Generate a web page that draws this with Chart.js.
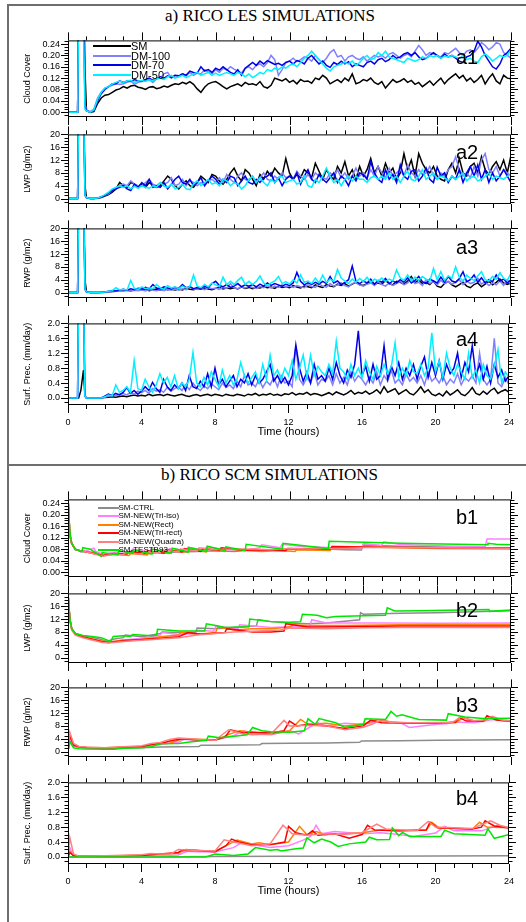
<!DOCTYPE html>
<html>
<head>
<meta charset="utf-8">
<script src="https://cdn.jsdelivr.net/npm/chart.js@4.4.0/dist/chart.umd.min.js"></script>
<style>
  body { margin: 0; background: #fff; width: 526px; height: 922px; position: relative; overflow: hidden; font-family: "Liberation Sans", Arial, sans-serif; }
  canvas { position: absolute; left: 0; }
  .rule { position: absolute; background: #6e6e6e; }
  .title { position: absolute; font-family: "Liberation Serif", "Times New Roman", serif; font-size: 17px; line-height: 17px; white-space: nowrap; transform: translateX(-50%); }
  .tag { position: absolute; font-size: 20px; line-height: 20px; }
  .row { position: absolute; display: flex; align-items: center; white-space: nowrap; }
  .row span.sw { display: inline-block; height: 2px; }
</style>
</head>
<body>
<div class="rule" style="left:7px;top:4px;width:2px;height:918px"></div>
<div class="rule" style="left:7px;top:4px;width:519px;height:2px"></div>
<div class="rule" style="left:7px;top:464px;width:519px;height:2px"></div>
<div class="title" style="left:270px;top:6.5px">a) RICO LES SIMULATIONS</div>
<div class="title" style="left:269.5px;top:466px">b) RICO SCM SIMULATIONS</div>

<script>
// ---- LES output, sampled every 0.2 h (denser around the spin-up spike)
const lesTime = [0,0.52,0.58,0.7,0.84,0.92,
  1,1.2,1.4,1.6,1.8, 2,2.2,2.4,2.6,2.8, 3,3.2,3.4,3.6,3.8, 4,4.2,4.4,4.6,4.8,
  5,5.2,5.4,5.6,5.8, 6,6.2,6.4,6.6,6.8, 7,7.2,7.4,7.6,7.8, 8,8.2,8.4,8.6,8.8,
  9,9.2,9.4,9.6,9.8, 10,10.2,10.4,10.6,10.8, 11,11.2,11.4,11.6,11.8, 12,12.2,12.4,12.6,12.8,
  13,13.2,13.4,13.6,13.8, 14,14.2,14.4,14.6,14.8, 15,15.2,15.4,15.6,15.8, 16,16.2,16.4,16.6,16.8,
  17,17.2,17.4,17.6,17.8, 18,18.2,18.4,18.6,18.8, 19,19.2,19.4,19.6,19.8, 20,20.2,20.4,20.6,20.8,
  21,21.2,21.4,21.6,21.8, 22,22.2,22.4,22.6,22.8, 23,23.2,23.4,23.6,23.8, 24];

// cloud cover
const ccSM = [0,0,0.4,0.6,0.5,0.15,
  0.005,0,0.002,0.03,0.05, 0.06,0.062,0.07,0.078,0.082, 0.09,0.085,0.092,0.095,0.088, 0.085,0.08,0.088,0.09,0.083,
  0.086,0.092,0.088,0.095,0.1, 0.098,0.105,0.1,0.108,0.098, 0.082,0.07,0.088,0.1,0.105, 0.108,0.1,0.09,0.082,0.09,
  0.095,0.1,0.092,0.105,0.098, 0.1,0.095,0.108,0.09,0.085, 0.095,0.12,0.115,0.11,0.118, 0.105,0.112,0.1,0.115,0.108,
  0.11,0.102,0.12,0.115,0.13, 0.12,0.1,0.108,0.115,0.105, 0.12,0.11,0.135,0.1,0.105, 0.115,0.11,0.12,0.105,0.098,
  0.108,0.085,0.1,0.115,0.105, 0.11,0.118,0.105,0.112,0.098, 0.105,0.09,0.1,0.11,0.095, 0.108,0.12,0.1,0.115,0.125,
  0.135,0.12,0.13,0.11,0.12, 0.105,0.115,0.13,0.1,0.12, 0.135,0.11,0.1,0.13,0.12, 0.118];
const ccD100 = [0,0,0.4,0.6,0.4,0.03,
  0.008,0.002,0.01,0.05,0.07, 0.085,0.09,0.095,0.1,0.098, 0.1,0.105,0.11,0.098,0.105, 0.108,0.112,0.115,0.105,0.118,
  0.12,0.135,0.14,0.12,0.13, 0.125,0.135,0.128,0.14,0.13, 0.138,0.135,0.15,0.142,0.135, 0.15,0.14,0.155,0.148,0.16,
  0.152,0.145,0.138,0.155,0.16, 0.15,0.165,0.17,0.16,0.175, 0.2,0.185,0.13,0.15,0.175, 0.18,0.19,0.178,0.185,0.195,
  0.19,0.18,0.2,0.185,0.175, 0.19,0.21,0.22,0.195,0.2, 0.18,0.195,0.2,0.19,0.185, 0.195,0.18,0.19,0.2,0.195,
  0.2,0.19,0.205,0.21,0.2, 0.19,0.2,0.205,0.195,0.215, 0.235,0.22,0.2,0.21,0.205, 0.2,0.195,0.21,0.205,0.215,
  0.225,0.21,0.2,0.215,0.22, 0.21,0.225,0.245,0.235,0.22, 0.23,0.245,0.24,0.21,0.2, 0.19];
const ccD70 = [0,0,0.4,0.6,0.4,0.02,
  0.005,0,0.005,0.04,0.065, 0.08,0.09,0.1,0.1,0.11, 0.105,0.11,0.108,0.115,0.11, 0.11,0.115,0.12,0.112,0.118,
  0.125,0.12,0.128,0.122,0.13, 0.128,0.135,0.13,0.145,0.14, 0.138,0.16,0.145,0.15,0.14, 0.155,0.148,0.16,0.15,0.14,
  0.135,0.15,0.13,0.155,0.165, 0.175,0.165,0.18,0.17,0.182, 0.175,0.168,0.172,0.165,0.175, 0.18,0.17,0.182,0.178,0.17,
  0.19,0.2,0.185,0.17,0.18, 0.165,0.158,0.175,0.168,0.18, 0.17,0.178,0.16,0.17,0.165, 0.16,0.175,0.18,0.17,0.185,
  0.19,0.178,0.185,0.2,0.19, 0.195,0.205,0.21,0.2,0.21, 0.195,0.185,0.19,0.2,0.21, 0.2,0.19,0.205,0.195,0.2,
  0.19,0.18,0.175,0.195,0.2, 0.215,0.25,0.23,0.2,0.18, 0.16,0.152,0.17,0.2,0.21, 0.225];
const ccD50 = [0,0,0.4,0.6,0.3,0.01,
  0.005,0,0.008,0.045,0.07, 0.085,0.09,0.1,0.105,0.11, 0.105,0.11,0.112,0.105,0.11, 0.112,0.108,0.115,0.11,0.118,
  0.12,0.115,0.125,0.13,0.12, 0.125,0.13,0.122,0.128,0.135, 0.14,0.13,0.135,0.14,0.13, 0.138,0.13,0.135,0.14,0.135,
  0.13,0.14,0.135,0.125,0.135, 0.122,0.13,0.14,0.135,0.15, 0.145,0.155,0.15,0.16,0.155, 0.165,0.17,0.16,0.175,0.19,
  0.2,0.215,0.2,0.185,0.17, 0.155,0.145,0.16,0.165,0.17, 0.175,0.17,0.18,0.165,0.175, 0.19,0.2,0.185,0.19,0.21,
  0.2,0.215,0.195,0.19,0.185, 0.18,0.175,0.19,0.185,0.18, 0.185,0.195,0.19,0.2,0.195, 0.2,0.19,0.198,0.195,0.2,
  0.195,0.19,0.2,0.185,0.19, 0.18,0.175,0.195,0.205,0.195, 0.18,0.19,0.2,0.195,0.2, 0.22];

// liquid water path
const lwpSM = [0,0,30,40,35,4,
  0.3,0,0,0.1,0.3, 0.8,1.2,2,3,5, 4,3.5,5,4.5,3.8, 4.5,3.5,5,4,3.5,
  4,5.5,7,6,4, 3,4.5,5.5,4,3.5, 5,7,6,5,7.5, 7,5.5,4.5,6,8,
  9.5,7,5.5,9,8, 6,4,7.5,6,8.5, 7,9.5,8,7,12.5, 8,6,7.5,6.5,9,
  8,6.5,11,8.5,6, 9,7,6,10,8, 11.5,7,9,6,10, 7,9,12.5,8,10,
  7,11,8,9.5,6, 8,14,9,12,7, 14,11,9,8,10, 7,6,5.5,9,11,
  8,12.5,8,7,10, 11,8,13,9,7.5, 10,11.5,9,12,8, 13.5];
const lwpD100 = [0,0,30,40,30,1,
  0.3,0,0,0.1,0.5, 1,1.5,2.5,3.5,4, 4.5,4,5.5,4.5,4, 4,5,6,4.5,4,
  5,4.5,5,6.5,4, 4.5,6,4,5.5,5, 4,5,4.5,5.5,6, 5,6.5,5,7.5,6,
  5,7,8,6,5.5, 7,5,6.5,8,6, 5.5,7,6,8,6.5, 7,6,8.5,7,6,
  7.5,6,8,7,6.5, 6,8,7,9,6.5, 8,6,7,9.5,7, 8,6.5,9,7,10,
  8,6.5,9.5,7,8, 9,7,10.5,8,7, 9,7.5,8,10,7, 6,8,7,9,10,
  13,9,7,8,6.5, 10,7,12,14,9, 8,10,7,9,8, 7];
const lwpD70 = [0,0,30,40,30,1,
  0.3,0,0,0.2,0.5, 1,1.8,2.5,3,3.5, 4,3,2.5,4.5,3.5, 5,4,6,3.5,4,
  3.5,5,3,4.5,6, 7,5,4.5,6,4, 5,6.5,4,5.5,7, 6,4.5,6,5,7,
  6.5,4,5.5,7,5, 4.5,6,5,6.5,7, 8,5,6.5,4,6, 7,6,8,4.5,7,
  9,6,5,7.5,6, 5,6.5,8,5,7, 6,4,7,5.5,8, 7.5,6,11.5,8,6,
  5,9,6,7.5,5, 10.5,7,6,8.5,9, 5.5,7,9.5,6,5, 9.8,7,8,5,7,
  6,9,5,8,10, 7,10.5,6,9,5, 8,5.5,7,9,7, 5];
const lwpD50 = [0,0,30,40,30,1,
  0.3,0,0,0.2,0.6, 1.2,2,3,3.5,4, 3.5,4,3,3.8,3.2, 4,3.5,3.2,4,3.6,
  5,3.8,3.5,4.5,3, 3.5,4.5,3,2.8,4.5, 5.5,4,5,6,4.5, 5,4,6,5.5,4,
  5,4.5,3,4,6, 7,5,6.5,5,4, 6,5,6.5,7,5, 5.5,6,4.5,5,7,
  4,3.5,6,5,7, 9.5,7,5,6,4, 6,7,5.5,7,6, 6,5,6.5,7,6,
  7,6,8,6,7, 5,7,8.5,6,5.5, 7,9,6,7,8, 6,7,6.5,5.5,7,
  6,7,8,5.5,6.5, 7,5.5,6,7,8, 6,7,6.5,6,7, 7.5];

// rain water path
const rwpSM = [0,0,30,40,35,4,
  0.2,0,0,0,0, 0.1,0.2,0.3,0.4,0.5, 0.6,0.8,0.5,0.9,0.7, 0.8,1,0.6,0.9,1.1,
  0.7,1.2,0.9,1,0.8, 1.1,0.8,1.3,1,0.9, 1.2,1,1.4,1.1,0.9, 1.3,1.6,1.1,1.4,1.2,
  1.5,1.1,1.8,1.3,1.6, 1.2,1.6,1.4,1.9,1.5, 1.7,1.3,2,1.6,1.8, 1.5,2.2,1.7,1.4,2,
  1.8,1.5,2.4,1.9,1.6, 2.5,2,1.8,2.6,2.2, 2.8,2,2.6,3.2,2.4, 2.2,2.8,3.5,2.5,3,
  2.6,3.8,2.8,2.4,3.5, 3.2,2.6,3.6,5,3, 4,2.8,3.2,2.5,3.6, 2,1.6,2.8,3.5,2.4,
  1.8,2.5,3.2,2,1.5, 2.5,3,1.8,2.6,3.5, 2.4,3.2,4.2,3,2.5, 3];
const rwpD100 = [0,0,30,40,30,1,
  0.2,0,0,0,0, 0.1,0.2,0.3,0.4,0.5, 0.4,0.6,0.5,0.7,0.6, 0.8,0.5,0.9,0.7,0.6,
  0.9,0.6,1,0.8,1.1, 0.7,1.2,0.9,2,1.1, 1,1.3,0.9,1.5,1.2, 1.4,1,1.6,1.3,2.8,
  1.5,1.2,1.8,1.4,2, 1.6,1.3,1.9,1.5,2.2, 1.4,2,1.6,2.4,1.7, 2,1.6,2.2,1.8,1.5,
  2.4,1.9,1.6,2.6,2, 1.7,2.8,2,2.4,3, 2.2,1.8,2.8,3.2,2.4, 2,2.6,3,2.2,3.4,
  2.5,2,3,2.2,2.8, 3.5,2.4,3,4.4,2.8, 3.2,2.2,4,2.8,3.5, 2.4,3.8,2.8,3.4,2.6,
  3.2,4,2.5,3.6,2.8, 3.2,4.5,2.6,3.4,2.2, 3,2.4,3.6,2.2,4, 2.5];
const rwpD70 = [0,0,30,40,30,1,
  0.2,0,0,0,0.1, 0.2,0.4,0.6,0.5,0.8, 1,0.7,1.2,0.9,1.3, 1.1,1.6,1.2,2.5,1.4,
  1.2,1.8,1.4,1.1,1.6, 1.3,2.5,1.5,1.8,1.2, 1.6,1.3,2,1.5,2.8, 3.5,2.2,1.8,2.5,1.6,
  2,2.8,1.8,2.4,2, 2.5,1.8,2.6,2,3, 2.2,2.8,2.4,2,2.6, 2.2,3,6.3,3.5,2.4,
  3,2.5,3.2,2.6,3.5, 2.8,5,3,3.6,2.5, 3.2,4,8.3,3.5,2.8, 3.6,3,4.2,2.6,3.8,
  3.2,4.4,2.8,3.6,3, 4,3.2,4.6,3,3.8, 5,3.4,2.8,4.2,3.6, 3,4.8,3.2,5,3.6,
  3.2,4.4,6.5,3.4,4, 5.5,3.2,4.6,3,4, 3.4,5.5,3.6,4.2,3, 4];
const rwpD50 = [0,0,30,40,30,1,
  0.2,0,0,0,0.1, 0.2,0.4,0.6,1.5,0.8, 1,0.8,3.8,1.2,1, 1.8,1.2,1.5,1.2,2.5,
  1.5,1,2.2,1.4,1.8, 1.2,2,1.4,1.8,5.5, 2,1.5,2.5,1.8,3, 2.4,1.8,4.8,2.4,3.5,
  2.5,3.8,4.8,2.5,3.5, 2.5,3.5,5.2,3,2.2, 3,3.6,5,2.8,3.4, 2.6,4,3,5.5,3.2,
  3.6,2.8,4.5,3,5.4, 3.2,4.2,3.5,7.2,4.5, 3.6,2.8,4.2,3.2,4.4, 3.4,4.8,3.2,4.2,3.6,
  4.5,3.4,4.2,3.6,7, 4.6,3.8,5.5,3.6,4.8, 3.8,5,4.2,3.6,7.5, 4,6.5,3.8,5.2,4.5,
  8,4.8,3.6,5.4,4.4, 3.8,5.2,6.5,4,3.6, 5,4.2,6.2,4.4,3.8, 6];

// surface precipitation
const prSM = [0,0,0,0.2,0.75,0.05,
  0,0,0,0,0, 0.01,0.02,0.03,0.02,0.04, 0.05,0.03,0.06,0.08,0.05, 0.07,0.05,0.1,0.06,0.08,
  0.09,0.06,0.1,0.07,0.05, 0.08,0.1,0.06,0.04,0.07, 0.09,0.05,0.08,0.1,0.06, 0.1,0.08,0.05,0.1,0.07,
  0.06,0.1,0.08,0.05,0.1, 0.08,0.12,0.06,0.1,0.08, 0.12,0.07,0.1,0.06,0.11, 0.09,0.14,0.08,0.12,0.1,
  0.15,0.08,0.12,0.1,0.06, 0.1,0.14,0.08,0.16,0.12, 0.08,0.13,0.2,0.1,0.15, 0.12,0.18,0.1,0.15,0.22,
  0.12,0.3,0.15,0.2,0.25, 0.1,0.16,0.22,0.12,0.08, 0.18,0.3,0.15,0.22,0.1, 0.06,0.12,0.05,0.18,0.08,
  0.14,0.22,0.1,0.06,0.15, 0.28,0.12,0.08,0.18,0.1, 0.2,0.26,0.12,0.18,0.22, 0.15];
const prD100 = [0,0,3,4,3,0.05,
  0,0,0,0,0, 0.02,0.05,0.08,0.06,0.1, 0.12,0.08,0.15,0.1,0.18, 0.14,0.2,0.12,0.25,0.18,
  0.22,0.15,0.28,0.18,0.25, 0.3,0.2,0.35,0.22,0.4, 0.28,0.2,0.32,0.25,0.38, 0.3,0.22,0.4,0.28,0.35,
  0.25,0.45,0.3,0.6,0.35, 0.4,0.3,0.5,0.28,0.45, 0.35,0.55,0.3,0.6,0.4, 0.45,0.3,1.4,0.5,0.35,
  0.55,0.4,0.7,0.35,0.5, 0.45,0.6,0.35,0.65,0.4, 0.55,0.35,0.7,0.45,0.6, 0.5,0.35,0.55,0.4,0.7,
  0.35,0.6,0.45,0.75,0.4, 0.5,0.35,0.65,0.45,0.55, 0.4,0.6,0.35,0.7,0.45, 0.55,0.4,0.6,0.35,0.5,
  0.4,0.65,0.35,0.55,0.45, 0.6,0.4,1.2,0.5,0.35, 0.5,1.6,0.4,0.3,0.55, 0.35];
const prD70 = [0,0,3,4,3,0.05,
  0,0,0,0,0, 0.05,0.1,0.06,0.12,0.08, 0.15,0.28,0.12,0.2,0.1, 0.18,0.3,0.2,0.42,0.25,
  0.15,0.5,0.3,0.2,0.35, 0.25,0.4,0.2,0.6,0.3, 0.25,0.45,0.3,0.65,0.3, 0.8,0.35,0.5,0.3,0.45,
  0.6,0.3,0.5,0.4,0.65, 0.35,0.6,0.4,0.5,0.7, 0.9,0.45,0.6,0.4,0.55, 0.35,0.6,1.42,0.8,0.45,
  0.7,0.4,0.9,0.5,0.6, 0.45,0.8,0.5,0.95,0.6, 0.4,0.75,0.55,0.9,1.8, 0.6,0.85,0.45,0.9,0.5,
  0.6,1.4,0.5,0.85,0.6, 0.95,0.5,0.8,0.6,0.9, 0.5,0.85,1.1,0.55,0.95, 0.6,1.0,0.5,0.9,0.65,
  0.8,1.2,0.55,0.95,0.7, 1.4,0.6,0.9,0.5,0.85, 0.4,0.9,0.55,0.75,0.45, 0.6];
const prD50 = [0,0,3,4,3,0.05,
  0,0,0,0,0, 0.03,0.08,0.05,0.35,0.15, 0.2,0.3,0.15,1.0,0.25, 0.2,0.5,0.3,0.15,0.35,
  0.65,0.4,0.55,0.3,0.6, 0.25,0.4,0.3,0.5,1.22, 0.4,0.3,0.55,0.35,0.7, 0.5,0.3,0.75,0.4,0.6,
  0.35,0.5,0.95,0.6,0.4, 0.55,0.7,0.4,0.9,0.5, 1.15,0.6,0.75,0.5,0.8, 0.6,1.0,0.5,0.8,1.15,
  0.55,1.15,0.6,0.85,0.7, 0.6,0.9,0.65,1.52,0.8, 0.7,0.5,0.9,0.6,0.8, 0.55,1.0,0.7,0.5,0.85,
  0.6,0.9,0.65,0.85,1.48, 0.55,0.8,0.6,1.0,0.7, 0.65,0.9,0.6,0.8,1.75, 0.7,1.0,0.55,1.2,0.8,
  0.6,0.9,0.7,0.5,1.2, 0.55,0.75,0.4,0.9,0.6, 0.5,0.85,1.3,0.4,0.7, 0.55];

// ---- SCM output, [hour, value]
const ccCtrl = [[0,0.26],[0.1,0.13],[0.2,0.1],[0.4,0.08],[0.8,0.072],[1.5,0.068],[1.9,0.058],[2.5,0.062],[3,0.064],[3.6,0.07],[4.5,0.066],[5,0.068],[6,0.07],[7,0.072],[8,0.074],[9,0.072],[10,0.078],[11,0.076],[12,0.08],[13,0.078],[14,0.08],[15,0.078],[15.9,0.077],[16,0.094],[17,0.092],[18,0.09],[20,0.088],[22,0.085],[24,0.085]];
const ccTriIso = [[0,0.26],[0.1,0.13],[0.2,0.1],[0.4,0.08],[0.7,0.07],[1,0.075],[1.4,0.083],[1.5,0.072],[1.9,0.062],[2.6,0.07],[3.4,0.072],[3.5,0.08],[4.4,0.07],[4.5,0.08],[5.4,0.072],[5.5,0.082],[6.4,0.076],[6.5,0.086],[7.4,0.076],[7.5,0.088],[8.5,0.078],[9.8,0.078],[10.4,0.085],[10.5,0.095],[11.5,0.085],[11.6,0.097],[12.8,0.088],[15.9,0.082],[16,0.1],[16.5,0.096],[17,0.093],[17.1,0.105],[18,0.096],[20,0.092],[22.6,0.088],[22.7,0.115],[24,0.115]];
const ccRect = [[0,0.26],[0.1,0.13],[0.2,0.1],[0.4,0.078],[1,0.07],[1.5,0.066],[1.9,0.058],[2.5,0.062],[3.3,0.058],[3.4,0.065],[4.3,0.06],[4.4,0.07],[5.5,0.065],[5.6,0.074],[6.5,0.07],[6.6,0.078],[7.5,0.07],[7.6,0.08],[8.5,0.072],[8.6,0.08],[9.6,0.075],[10.5,0.072],[11.5,0.075],[12.3,0.072],[12.4,0.078],[14.2,0.075],[14.3,0.09],[16,0.087],[18,0.085],[20,0.082],[24,0.08]];
const ccTriRect = [[0,0.26],[0.1,0.13],[0.2,0.1],[0.4,0.078],[1,0.07],[1.9,0.058],[2.5,0.065],[3.2,0.063],[3.3,0.072],[4.2,0.066],[4.3,0.074],[5.2,0.066],[5.3,0.078],[6.2,0.07],[6.3,0.082],[7.2,0.072],[7.3,0.082],[8.2,0.075],[8.3,0.085],[9.5,0.076],[10.5,0.078],[11.8,0.074],[11.9,0.082],[14.2,0.08],[14.3,0.088],[16,0.087],[20,0.085],[24,0.085]];
const ccQuadra = [[0,0.26],[0.1,0.13],[0.2,0.1],[0.4,0.078],[1,0.07],[1.9,0.055],[2.5,0.063],[3,0.06],[3.1,0.068],[4,0.062],[4.1,0.072],[5,0.068],[5.1,0.078],[6,0.07],[6.1,0.08],[7,0.074],[7.1,0.085],[8,0.078],[9,0.08],[10,0.08],[11,0.078],[12,0.082],[13,0.08],[14,0.082],[15,0.082],[16,0.086],[18,0.086],[20,0.085],[24,0.083]];
const ccB93 = [[0,0.26],[0.1,0.14],[0.2,0.1],[0.4,0.08],[0.7,0.072],[0.75,0.071],[0.8,0.085],[1.2,0.08],[1.8,0.055],[1.85,0.068],[2.7,0.06],[2.75,0.075],[3.5,0.065],[3.55,0.078],[4.5,0.063],[4.55,0.08],[5.6,0.066],[5.65,0.083],[6.5,0.07],[6.55,0.086],[7.5,0.072],[7.55,0.09],[8.5,0.075],[8.55,0.088],[9.6,0.075],[9.65,0.097],[11.6,0.08],[11.65,0.1],[14.1,0.082],[14.15,0.107],[18,0.1],[22.7,0.095],[22.75,0.1],[23.2,0.097],[24,0.095]];

const lwpCtrl = [[0,20],[0.1,12],[0.2,9],[0.4,7.5],[0.8,6.7],[1.3,6.3],[1.8,5.6],[2.1,5],[2.5,5.8],[3,6.2],[3.1,7],[4,6.5],[5,7.5],[5.1,8],[6,7.8],[6.9,7.8],[7,9.2],[8,9],[9.5,9.6],[10.2,9.8],[10.3,11.8],[11,11.2],[12,10.8],[13,10.5],[14,10.8],[15.8,11.8],[15.85,14],[16,13.5],[18,13.8],[20,14],[22,14.3],[24,14.6]];
const lwpTriIso = [[0,20],[0.1,12],[0.2,9],[0.4,7.3],[0.8,6.5],[1.8,5],[2.2,4.8],[3,5.5],[4,6],[5,7],[5.1,7.8],[6,7.2],[6.9,7.5],[7,8.5],[7.9,8.2],[8,9.8],[9.2,9],[9.3,10.2],[11,9.4],[12,9.6],[13.1,9.5],[13.2,11.8],[14,10.8],[17,10.8],[20,10.7],[24,10.8]];
const lwpRect = [[0,20],[0.1,12],[0.2,9],[0.4,7.3],[0.8,6.5],[1.8,5.2],[2.2,4.8],[3,5.5],[4,5.6],[5,6.5],[6,7],[6.1,7.8],[7,7.3],[8,7.8],[8.1,9.5],[9,8.6],[10,9],[11,9],[12,9.5],[12.2,10.2],[13,10],[15,10],[18,10.2],[24,10.3]];
const lwpTriRect = [[0,20],[0.1,12],[0.2,9],[0.4,7.2],[0.8,6.4],[1.8,5],[2.2,4.7],[3,5.2],[4,5.6],[5,6],[6,6.5],[6.5,7.8],[7.2,7.3],[8.5,7.8],[8.6,9],[10,8],[11,8],[11.7,8.3],[11.8,10.5],[13,9.5],[15,9.6],[18,9.8],[24,9.8]];
const lwpQuadra = [[0,20],[0.1,12],[0.2,8.5],[0.4,7],[0.8,6.2],[1.8,4.8],[2.2,4.5],[3,5],[4,5.4],[5,5.8],[6,6.2],[7,7],[8,7.5],[9,8],[10,8.2],[11.5,8.6],[12,9.2],[14,9],[16,9.3],[18,9.4],[20,9.4],[24,9.4]];
const lwpB93 = [[0,20],[0.1,12],[0.2,9],[0.4,7.5],[0.8,6.9],[1.3,6.6],[1.8,6.2],[2.3,5],[2.45,6.6],[3,6.8],[3.4,6.6],[3.5,7.2],[4.5,6.8],[4.8,7],[4.85,8.8],[5.5,8.5],[6,8.3],[7.4,8.3],[7.5,10.5],[8,10],[8.5,9.4],[9.8,9.6],[9.85,12],[11,11.2],[12,11],[12.6,11.2],[12.7,13.5],[13.5,13.2],[14,12.4],[14.5,12.8],[16,13],[17.2,13.2],[17.3,15.5],[17.7,14.5],[19,14.6],[22.8,15],[22.85,14.4],[24,14.8]];

const rwpCtrl = [[0,1],[0.1,3.5],[0.3,1.8],[0.6,1.3],[1,1.2],[3,1.1],[4,1.2],[5,1.4],[6,1.5],[7.1,1.6],[7.2,2],[8,2],[10.4,2.1],[10.5,2.5],[12,2.6],[14,2.7],[15.8,2.9],[15.9,3.3],[18,3.4],[20,3.5],[22,3.6],[24,3.7]];
const rwpTriIso = [[0,0],[0.1,4.5],[0.3,2],[0.6,1.4],[1,1.2],[2,1.1],[3,1.3],[4,1.6],[5,2.2],[6,3],[6.3,3.8],[7,3.5],[8,3.6],[9,5],[9.5,6.5],[10,5.5],[11,5.2],[12,6.5],[12.5,5.5],[13.5,9],[14,8],[15,8.8],[16,8.5],[17,9.5],[18,9],[18.5,7.5],[20,8.5],[20.5,8.7],[21,9.2],[22,9],[23,10],[24,9.4]];
const rwpRect = [[0,0],[0.1,5.5],[0.3,2.2],[0.6,1.5],[1,1.3],[2,1.2],[3,1.4],[4,1.6],[4.8,2.5],[5.5,2.6],[6.2,4],[7,3.8],[8,3.6],[8.8,5.5],[9.3,6.5],[10,6],[11,5.5],[12,6.5],[12.6,10],[13,8.5],[14,8.8],[15,8],[16,8.6],[16.8,10],[17.5,9.2],[19,8.8],[21,9],[21.4,10.5],[22,9.5],[22.5,9.4],[22.9,10.8],[23.5,9.6],[24,9.4]];
const rwpTriRect = [[0,0],[0.1,5],[0.3,2],[0.6,1.5],[1,1.3],[2,1.1],[3,1.3],[4,1.5],[4.5,2.2],[5,2.5],[5.7,3.5],[6.2,4],[7,3.6],[8,3.7],[8.5,4.5],[8.8,6.8],[9.5,5.8],[10,6],[11,5.8],[11.7,6.5],[12,9.5],[12.4,8],[13,8.5],[14,8],[15,7.2],[16,8],[16.4,9.8],[17,9],[18,8.8],[20,8.8],[21,9.2],[21.2,10.5],[21.6,9.5],[22.5,9.5],[22.7,11.2],[23.2,9.8],[24,9.5]];
const rwpQuadra = [[0,0],[0.1,6],[0.3,2.5],[0.6,1.6],[1,1.4],[2,1.2],[3,1.5],[4,1.8],[4.5,2.5],[5,2.8],[5.5,3.8],[6,4.2],[7,3.8],[8,3.5],[8.3,5],[8.7,6.8],[9.5,5.5],[10,5.2],[11,5.5],[11.7,9.7],[12,8],[13,8.2],[14,8],[15,6.8],[16,7.6],[16.5,8.6],[17,10],[17.5,9],[19,9],[20.8,9],[21.3,10.8],[22,9.6],[22.5,9.8],[23,11],[23.5,9.8],[24,9.6]];
const rwpB93 = [[0,0],[0.1,3],[0.3,1.2],[0.6,0.9],[1,0.8],[2,0.7],[2.5,0.7],[3,1],[4,1.2],[4.5,1.5],[5,2.4],[6,2.5],[6.6,3],[7.5,3.5],[7.6,4.8],[8.2,4.3],[9,4.8],[9.7,5.2],[10,7.5],[10.5,6.5],[11,6.2],[12,6],[12.8,6.5],[13,10.2],[13.4,8.5],[13.6,10.3],[14.5,9],[15,7.5],[16,8.5],[16.1,10.2],[17.2,10],[17.5,12.5],[17.8,11],[18.1,11.5],[19,10],[20.5,9.8],[20.6,11.8],[21.5,10.8],[22.5,10.3],[24,10.4]];

const prCtrl = [[0,0],[4,0],[8,0.01],[12,0.015],[16,0.02],[20,0.025],[24,0.03]];
const prTriIso = [[0,0],[0.1,0.25],[0.3,0.03],[0.6,0.01],[2,0.01],[4,0.02],[6,0.05],[6.5,0.15],[7,0.14],[8,0.13],[9,0.25],[9.5,0.4],[10,0.33],[11,0.25],[12,0.3],[12.8,0.45],[13.2,0.55],[13.5,0.85],[13.8,0.62],[14.5,0.68],[16,0.62],[17,0.65],[18,0.6],[18.8,0.55],[20,0.64],[20.5,0.82],[21,0.7],[22.5,0.7],[23.4,0.85],[24,0.75]];
const prRect = [[0,0],[0.1,0.15],[0.3,0.03],[0.6,0.02],[2,0.02],[4,0.05],[5,0.07],[6,0.1],[6.4,0.2],[7,0.18],[8,0.15],[9.2,0.45],[10,0.35],[10.4,0.38],[11,0.33],[12,0.4],[12.6,0.82],[13,0.6],[13.5,0.68],[14,0.6],[15,0.62],[16,0.65],[17,0.72],[18,0.7],[19.5,0.72],[19.8,0.93],[20.2,0.78],[22,0.74],[22.4,0.93],[22.8,0.8],[24,0.78]];
const prTriRect = [[0,0],[0.1,0.12],[0.3,0.03],[0.6,0.02],[2,0.02],[4,0.04],[5,0.08],[6,0.12],[6.2,0.18],[7,0.17],[8,0.14],[8.6,0.3],[8.9,0.48],[9.3,0.4],[10,0.32],[11,0.33],[11.8,0.4],[12,0.82],[12.4,0.65],[13,0.58],[13.3,0.7],[13.6,0.58],[14.5,0.62],[15.3,0.5],[16,0.6],[16.3,0.85],[16.7,0.72],[18,0.7],[19.5,0.72],[19.7,0.93],[20.1,0.78],[22,0.75],[22.5,0.8],[22.7,0.97],[23.2,0.83],[24,0.78]];
const prQuadra = [[0,0],[0.1,0.52],[0.3,0.08],[0.6,0.02],[2,0.03],[4,0.06],[4.5,0.09],[5,0.08],[5.6,0.08],[6,0.2],[7,0.17],[8,0.16],[8.5,0.46],[9,0.4],[10,0.3],[11,0.35],[11.7,0.85],[12.2,0.62],[13,0.58],[14,0.62],[15,0.6],[16,0.65],[16.8,0.88],[17.3,0.75],[19,0.7],[19.6,0.95],[20,0.8],[22,0.76],[23,0.97],[23.5,0.85],[24,0.78]];
const prB93 = [[0,0],[7.5,0],[8,0.08],[8.5,0.06],[9,0.04],[9.8,0.08],[10.2,0.25],[11,0.18],[11.4,0.2],[11.6,0.16],[12.4,0.22],[12.8,0.24],[13,0.51],[13.4,0.38],[13.8,0.48],[14.3,0.4],[14.7,0.28],[15.3,0.35],[16.2,0.4],[16.4,0.53],[16.8,0.46],[17.5,0.47],[17.65,0.78],[18,0.57],[18.2,0.66],[18.6,0.55],[20.3,0.55],[20.5,0.72],[21,0.62],[22.7,0.58],[22.85,0.76],[23.2,0.5],[23.6,0.55],[24,0.6]];

const lesNames = ['SM', 'DM-100', 'DM-70', 'DM-50'];
const lesColors = ['#000000', '#8080ff', '#0000e8', '#00f0ff'];
const scmNames = ['SM-CTRL', 'SM-NEW(Tri-iso)', 'SM-NEW(Rect)', 'SM-NEW(Tri-rect)', 'SM-NEW(Quadra)', 'SM-TESTB93'];
const scmColors = ['#8c8c8c', '#ff80ff', '#ff8000', '#ff0000', '#ff8080', '#00e600'];

const ccTicks = [0, 0.04, 0.08, 0.12, 0.16, 0.2, 0.24];
const wpTicks = [0, 4, 8, 12, 16, 20];
const prTicks = [0, 0.4, 0.8, 1.2, 1.6, 2.0];
const hourTicks = [0, 4, 8, 12, 16, 20, 24];

const CC = { min: -0.017, max: 0.253, ticks: ccTicks, minor: 0.01, dec: 2, title: 'Cloud Cover' };
const LWP = { min: -1.7, max: 20, ticks: wpTicks, minor: 1, dec: 0, title: 'LWP (g/m2)' };
const RWP = { min: -1.7, max: 20, ticks: wpTicks, minor: 1, dec: 0, title: 'RWP (g/m2)' };
const PR = { min: -0.19, max: 2.0, ticks: prTicks, minor: 0.1, dec: 1, title: 'Surf. Prec. (mm/day)' };

const panels = [
  { tag: 'a1', top: 39, bottom: 129, axis: CC, les: [ccSM, ccD100, ccD70, ccD50], tagY: 63.5 },
  { tag: 'a2', top: 133, bottom: 216, axis: LWP, les: [lwpSM, lwpD100, lwpD70, lwpD50], tagY: 158.5 },
  { tag: 'a3', top: 227, bottom: 310, axis: RWP, les: [rwpSM, rwpD100, rwpD70, rwpD50], tagY: 253.5 },
  { tag: 'a4', top: 322, bottom: 405, axis: PR, les: [prSM, prD100, prD70, prD50], tagY: 346, time: true },
  { tag: 'b1', top: 498, bottom: 589, axis: CC, scm: [ccCtrl, ccTriIso, ccRect, ccTriRect, ccQuadra, ccB93], tagY: 523.6 },
  { tag: 'b2', top: 592, bottom: 675, axis: LWP, scm: [lwpCtrl, lwpTriIso, lwpRect, lwpTriRect, lwpQuadra, lwpB93], tagY: 617 },
  { tag: 'b3', top: 686, bottom: 769, axis: RWP, scm: [rwpCtrl, rwpTriIso, rwpRect, rwpTriRect, rwpQuadra, rwpB93], tagY: 712 },
  { tag: 'b4', top: 781, bottom: 864, axis: PR, scm: [prCtrl, prTriIso, prRect, prTriRect, prQuadra, prB93], tagY: 805, time: true },
];

const FONT = '"Liberation Sans", Arial, sans-serif';

// NCL-style frame with outward major/minor ticks on all four sides
function frameTicks(axis) {
  return {
    id: 'frameTicks',
    afterDraw(chart) {
      const { ctx, chartArea: a, scales: { x, y } } = chart;
      ctx.save();
      ctx.strokeStyle = '#000';
      ctx.lineWidth = 1;
      ctx.strokeRect(a.left + 0.5, a.top + 0.5, a.right - a.left - 1, a.bottom - a.top - 1);
      ctx.beginPath();
      for (let h = 0; h <= 24; h++) {
        const px = Math.round(x.getPixelForValue(h)) + 0.5;
        const len = h % 4 === 0 ? 8 : 4;
        ctx.moveTo(px, a.bottom); ctx.lineTo(px, a.bottom + len);
        ctx.moveTo(px, a.top); ctx.lineTo(px, a.top - len);
      }
      const k0 = Math.ceil(axis.min / axis.minor - 1e-6);
      const k1 = Math.floor(axis.max / axis.minor + 1e-6);
      for (let k = k0; k <= k1; k++) {
        const py = Math.round(y.getPixelForValue(k * axis.minor)) + 0.5;
        const len = k % 4 === 0 ? 7 : 3.5;
        ctx.moveTo(a.left, py); ctx.lineTo(a.left - len, py);
        ctx.moveTo(a.right, py); ctx.lineTo(a.right + len, py);
      }
      ctx.stroke();
      ctx.restore();
    }
  };
}

panels.forEach(p => {
  const padTop = 12;
  const below = p.time ? 40 : 12;
  const canvas = document.createElement('canvas');
  canvas.width = 526;
  canvas.height = (p.bottom - p.top) + padTop + below;
  canvas.style.top = (p.top - padTop) + 'px';
  document.body.appendChild(canvas);

  let datasets;
  if (p.les) {
    datasets = p.les.map((vals, i) => ({
      label: lesNames[i],
      data: vals.map((v, j) => ({ x: lesTime[j], y: v })),
      borderColor: lesColors[i],
      borderWidth: 1.5,
      order: p.les.length - i,
    }));
  } else {
    datasets = p.scm.map((pairs, i) => ({
      label: scmNames[i],
      data: pairs.map(([t, v]) => ({ x: t, y: v })),
      borderColor: scmColors[i],
      borderWidth: 1.5,
      order: p.scm.length - i,
    }));
  }

  const ax = p.axis;
  new Chart(canvas.getContext('2d'), {
    type: 'line',
    data: { datasets },
    options: {
      responsive: false,
      animation: false,
      devicePixelRatio: 1,
      events: [],
      layout: { padding: { left: 0, right: 15, top: padTop, bottom: p.time ? 0 : below } },
      elements: { point: { radius: 0 }, line: { tension: 0 } },
      plugins: { legend: { display: false }, tooltip: { enabled: false } },
      scales: {
        x: {
          type: 'linear',
          min: 0,
          max: 24,
          display: !!p.time,
          grid: { display: false, drawTicks: false },
          border: { display: false },
          afterBuildTicks: s => { s.ticks = hourTicks.map(v => ({ value: v })); },
          afterFit: s => { s.height = below; },
          ticks: {
            autoSkip: false, maxRotation: 0, padding: 12,
            color: '#000', font: { family: FONT, size: 9 },
            callback: v => String(v),
          },
          title: {
            display: true, text: 'Time (hours)', color: '#000',
            font: { family: FONT, size: 11 }, padding: { top: 0, bottom: 6 },
          },
        },
        y: {
          type: 'linear',
          min: ax.min,
          max: ax.max,
          grid: { display: false, drawTicks: false },
          border: { display: false },
          afterBuildTicks: s => { s.ticks = ax.ticks.map(v => ({ value: v })); },
          afterFit: s => { s.width = 68; },
          ticks: {
            autoSkip: false, padding: 8,
            color: '#000', font: { family: FONT, size: 9 },
            callback: v => Number(v).toFixed(ax.dec),
          },
          title: {
            display: true, text: ax.title, color: '#000',
            font: { family: FONT, size: 9 }, padding: { top: 22, bottom: 0 },
          },
        },
      },
    },
    plugins: [frameTicks(ax)],
  });

  const tag = document.createElement('div');
  tag.className = 'tag';
  tag.textContent = p.tag;
  tag.style.left = '456px';
  tag.style.top = (p.tagY - 16.9) + 'px';
  document.body.appendChild(tag);
});

// legends inside a1 and b1
function legend(names, colors, x0, x1, y0, dy, size) {
  names.forEach((n, i) => {
    const row = document.createElement('div');
    row.className = 'row';
    row.style.left = x0 + 'px';
    row.style.top = (y0 + i * dy - 6) + 'px';
    row.style.height = '12px';
    const sw = document.createElement('span');
    sw.className = 'sw';
    sw.style.width = (x1 - x0) + 'px';
    sw.style.background = colors[i];
    const tx = document.createElement('span');
    tx.textContent = n;
    tx.style.fontSize = size + 'px';
    tx.style.lineHeight = '12px';
    row.appendChild(sw);
    row.appendChild(tx);
    document.body.appendChild(row);
  });
}
legend(lesNames, lesColors, 93, 131, 46, 9.7, 11);
legend(scmNames, scmColors, 98, 118.5, 507.5, 8.55, 8);
</script>
</body>
</html>
